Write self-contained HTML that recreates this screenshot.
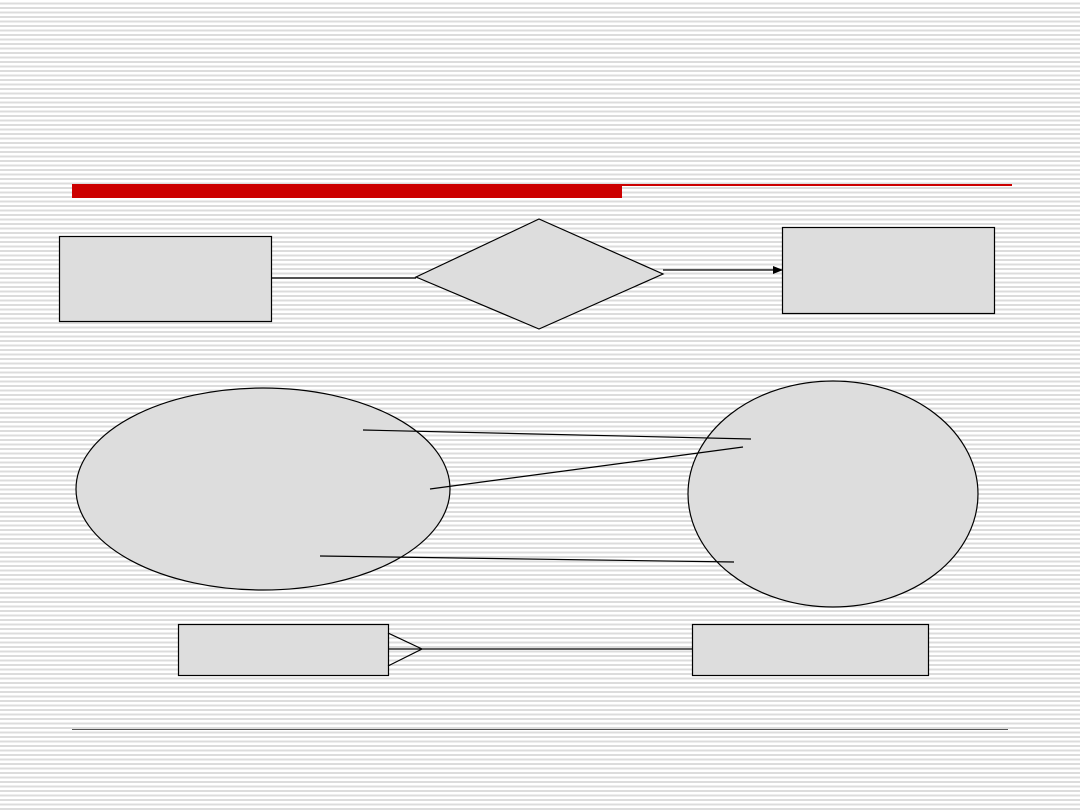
<!DOCTYPE html>
<html><head><style>
html,body{margin:0;padding:0}
body{width:1080px;height:810px;overflow:hidden;background:repeating-linear-gradient(to bottom,#fff 0px,#fff 2.5px,#dcdcdc 2.5px,#dcdcdc 4.5px);}
svg{position:absolute;left:0;top:0}
</style></head><body>
<svg width="1080" height="810" viewBox="0 0 1080 810">
<defs><marker id="a" markerWidth="10" markerHeight="8" refX="9" refY="4" orient="auto" markerUnits="userSpaceOnUse"><path d="M0,0 L10,4 L0,8 Z" fill="#000"/></marker></defs>
<rect x="72" y="184" width="550" height="14" fill="#cc0000"/>
<rect x="622" y="184" width="390" height="2" fill="#cc0000"/>
<line x1="72" y1="729.5" x2="1008" y2="729.5" stroke="#555" stroke-width="1"/>
<g stroke="#000" stroke-width="1.2" fill="#dddddd">
<rect x="59.5" y="236.5" width="212" height="85"/>
<rect x="782.5" y="227.5" width="212" height="86"/>
<polygon points="416,277 539,219 663,274 539,329"/>
<ellipse cx="263" cy="489" rx="187" ry="101"/>
<ellipse cx="833" cy="494" rx="145" ry="113"/>
<rect x="178.5" y="624.5" width="210" height="51"/>
<rect x="692.5" y="624.5" width="236" height="51"/>
</g>
<g stroke="#000" stroke-width="1.2" fill="none">
<line x1="271" y1="278" x2="416" y2="278"/>
<line x1="663" y1="270" x2="782" y2="270" marker-end="url(#a)"/>
<line x1="363" y1="430" x2="751" y2="439"/>
<line x1="430" y1="489" x2="743" y2="447"/>
<line x1="320" y1="556" x2="734" y2="562"/>
<line x1="388" y1="649" x2="692" y2="649"/>
<polyline points="388,633 422,649 388,666"/>
</g>
</svg>
</body></html>
